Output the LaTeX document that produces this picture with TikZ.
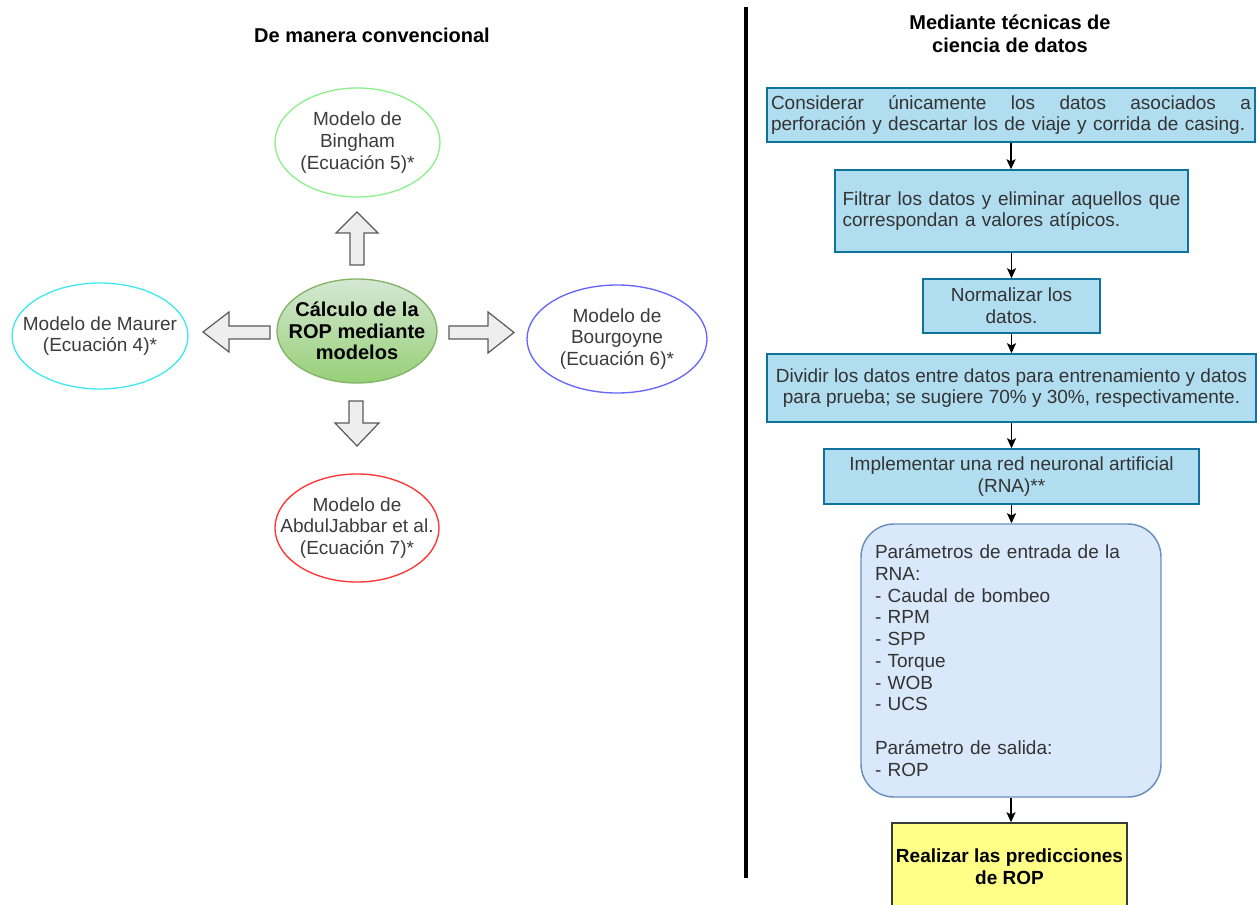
\documentclass[tikz,border=0pt]{standalone}
\usepackage{fontspec}
\setmainfont{Liberation Sans}
\usetikzlibrary{shapes.geometric,arrows.meta}

% one drawing unit = 0.75pt
\newdimen\pxu \pxu=0.75pt

\definecolor{txtdark}{HTML}{333333}
\definecolor{elltxt}{HTML}{3C3C3C}
\definecolor{procfill}{HTML}{B1DDF0}
\definecolor{procline}{HTML}{10739E}
\definecolor{parfill}{HTML}{DAE8FC}
\definecolor{parline}{HTML}{6C8EBF}
\definecolor{predfill}{HTML}{FFFF88}
\definecolor{predline}{HTML}{36393D}
\definecolor{arrfill}{HTML}{EEEEEE}
\definecolor{arrline}{HTML}{5A5A5A}
\definecolor{ctrtop}{HTML}{D5E8D4}
\definecolor{ctrbot}{HTML}{97D077}
\definecolor{ctrline}{HTML}{82B366}
\definecolor{binghamline}{HTML}{8CF08C}
\definecolor{maurerline}{HTML}{40E8F0}
\definecolor{bourgline}{HTML}{6666FF}
\definecolor{abdulline}{HTML}{FF3333}

\begin{document}
\begin{tikzpicture}[x=0.75pt,y=-0.75pt,
  body/.style={font=\fontsize{14.25pt}{16.3pt}\selectfont},
  heading/.style={font=\fontsize{15pt}{17.25pt}\selectfont\bfseries, align=center, text=black},
  model/.style={ellipse, draw, line width=1pt, inner sep=0pt, fill=white},
  modeltxt/.style={body, align=center, text=elltxt, inner sep=0pt},
  procbox/.style={rectangle, draw=procline, fill=procfill, line width=1.1pt,
    inner sep=0pt, align=center, body, text=txtdark},
  flow/.style={draw=black, line width=1pt,
    -{Stealth[length=7.5pt,width=6.8pt,inset=1.6pt]}},
  blockarrow/.style={draw=arrline, fill=arrfill, line width=0.9pt, line join=miter}
]
\useasboundingbox (0,0) rectangle (1257,905);
\clip (0,0) rectangle (1257,905);

% ---------- left half: conventional models ----------
\node[heading] (titleL) at (372,35) {De manera convencional};

\node[ellipse, draw=ctrline, top color=ctrtop, bottom color=ctrbot, line width=1pt,
      minimum width=160\pxu, minimum height=104\pxu, inner sep=0pt] (ctr) at (357,331) {};
\node[font=\fontsize{15pt}{16.3pt}\selectfont\bfseries, align=center, text=black, inner sep=0pt]
      (ctrtxt) at (ctr) {Cálculo de la\\ROP mediante\\modelos};

\node[model, draw=binghamline, minimum width=165\pxu, minimum height=109\pxu] (bing) at (357.5,142.5) {};
\node[modeltxt] (bingtxt) at (bing) {Modelo de\\Bingham\\(Ecuación 5)*};

\node[model, draw=maurerline, minimum width=176\pxu, minimum height=106\pxu] (maur) at (100,336) {};
\node[modeltxt] (maurtxt) at (maur) {Modelo de Maurer\\(Ecuación 4)*};

\node[model, draw=bourgline, minimum width=180\pxu, minimum height=108\pxu] (bour) at (617,339) {};
\node[modeltxt] (bourtxt) at (bour) {Modelo de\\Bourgoyne\\(Ecuación 6)*};

\node[model, draw=abdulline, minimum width=164\pxu, minimum height=108\pxu] (abdul) at (357,528) {};
\node[modeltxt] (abdultxt) at (abdul) {Modelo de\\AbdulJabbar et al.\\(Ecuación 7)*};

% block arrows around the central ellipse
\draw[blockarrow] (350,265) -- (350,233) -- (336,233) -- (357,212) -- (378,233) -- (364,233) -- (364,265) -- cycle;
\draw[blockarrow] (270,326) -- (229,326) -- (229,312) -- (203,332) -- (229,352) -- (229,339) -- (270,339) -- cycle;
\draw[blockarrow] (449,326) -- (488,326) -- (488,312) -- (514,332.5) -- (488,353) -- (488,339) -- (449,339) -- cycle;
\draw[blockarrow] (349,401) -- (363,401) -- (363,423) -- (379,423) -- (357,446) -- (335,423) -- (349,423) -- cycle;

% ---------- separator ----------
\coordinate (septop) at (746,7);
\coordinate (sepbot) at (746,878);
\draw[line width=2.6pt, black] (septop) -- (sepbot);

% ---------- right half: data science workflow ----------
\node[heading] (titleR) at (1010,34) {Mediante técnicas de\\ciencia de datos};

\node[procbox, align=left, minimum width=488\pxu, minimum height=54\pxu,
      text width=480\pxu, inner xsep=4\pxu] (b1) at (1011,115)
  {Considerar\hfill únicamente\hfill los\hfill datos\hfill asociados\hfill a\\
   \mbox{perforación y descartar los de viaje y corrida de casing.}};

\node[procbox, align=left, minimum width=353\pxu, minimum height=82\pxu,
      text width=338\pxu, inner xsep=7.5\pxu] (b2) at (1011.5,211)
  {Filtrar\hfill los\hfill datos\hfill y\hfill eliminar\hfill aquellos\hfill que\\
   correspondan a valores atípicos.};

\node[procbox, minimum width=177\pxu, minimum height=54\pxu] (b3) at (1011.5,306)
  {Normalizar los\\datos.};

\node[procbox, minimum width=489\pxu, minimum height=68\pxu] (b4) at (1011.5,388)
  {Dividir los datos entre datos para entrenamiento y datos\\
   para prueba; se sugiere 70\% y 30\%, respectivamente.};

\node[procbox, minimum width=375\pxu, minimum height=55\pxu] (b5) at (1011.5,476.5)
  {Implementar una red neuronal artificial\\(RNA)**};

\node[rectangle, draw=parline, fill=parfill, line width=1.1pt, rounded corners=33\pxu,
      body, text=txtdark, align=left, text width=272\pxu, inner xsep=14\pxu, inner ysep=0pt,
      minimum height=273\pxu] (b6) at (1011,660.5)
  {Parámetros de entrada de la\\RNA:\\- Caudal de bombeo\\- RPM\\- SPP\\- Torque\\- WOB\\- UCS\\[16.3pt]Parámetro de salida:\\- ROP};

\node[rectangle, draw=predline, fill=predfill, line width=1.1pt, inner sep=0pt,
      minimum width=235\pxu, minimum height=87\pxu, align=center,
      font=\fontsize{14.25pt}{16.3pt}\selectfont\bfseries, text=black] (b7) at (1009.5,866.5)
  {Realizar las predicciones\\de ROP};

% connectors
\draw[flow] (b1.south) -- (b1.south |- b2.north);
\draw[flow] (b2.south) -- (b2.south |- b3.north);
\draw[flow] (b3.south) -- (b3.south |- b4.north);
\draw[flow] (b4.south) -- (b4.south |- b5.north);
\draw[flow] (b5.south) -- (b5.south |- b6.north);
\draw[flow] (b6.south) -- (b6.south |- b7.north);
\end{tikzpicture}
\end{document}
